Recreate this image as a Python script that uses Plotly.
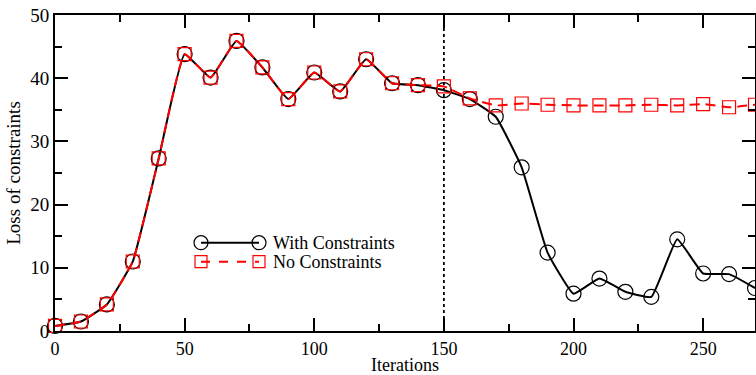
import plotly.graph_objects as go

iterations = list(range(0, 280, 10))
with_constraints = [0.8, 1.5, 4.2, 11.0, 27.3, 43.8, 40.1, 45.9, 41.7, 36.7, 40.9, 37.9, 43.0, 39.2, 38.9,
                    38.1, 36.7, 33.9, 25.9, 12.4, 5.9, 8.3, 6.2, 5.4, 14.5, 9.1, 9.0, 6.8]
no_constraints = [0.8, 1.5, 4.2, 11.0, 27.3, 43.8, 40.1, 45.9, 41.7, 36.7, 40.9, 37.9, 43.0, 39.2, 38.9,
                  38.7, 36.8, 35.7, 36.0, 35.8, 35.7, 35.7, 35.7, 35.8, 35.7, 35.9, 35.4, 35.8]
legend_labels = ["With Constraints", "No Constraints"]
x_title = "Iterations"
y_title = "Loss of constraints"

FONT = "Liberation Serif, Times New Roman, serif"

fig = go.Figure()
fig.add_trace(go.Scatter(
    x=iterations, y=with_constraints, mode="lines+markers", name=legend_labels[0],
    line=dict(color="black", width=2, shape="spline", smoothing=0.35),
    marker=dict(symbol="circle-open", size=15, color="black", line=dict(width=1.2)),
    cliponaxis=False, showlegend=False))
fig.add_trace(go.Scatter(
    x=iterations, y=no_constraints, mode="lines+markers", name=legend_labels[1],
    line=dict(color="#ff0000", width=2, dash="10px,6px", shape="spline", smoothing=0.35),
    marker=dict(symbol="square-open", size=13, color="#ff0000", line=dict(width=1.2)),
    cliponaxis=False, showlegend=False))

# vertical dotted line at iteration 150
fig.add_shape(type="line", xref="x", yref="paper", x0=150, x1=150, y0=0, y1=1,
              line=dict(color="black", width=1.8, dash="dot"))

# manual legend (paper coords)
W, H = 756, 375
l, r, t, b = 55, 1, 15, 44
pw, ph = W - l - r, H - t - b
def px(xp): return (xp - l) / pw
def py(yp): return (H - b - yp) / ph

rows = [(242.7, "black", "solid", "circle"), (261.7, "#ff0000", "dash", "square")]
for (yp, col, dash, sym), lab in zip(rows, legend_labels):
    fig.add_shape(type="line", xref="paper", yref="paper", x0=px(201), x1=px(259), y0=py(yp), y1=py(yp),
                  line=dict(color=col, width=2, dash=dash))
    for xc in (201, 259):
        if sym == "circle":
            fig.add_shape(type="circle", xref="paper", yref="paper",
                          x0=px(xc - 7), x1=px(xc + 7), y0=py(yp + 7), y1=py(yp - 7),
                          line=dict(color=col, width=1.2), fillcolor="rgba(0,0,0,0)")
        else:
            fig.add_shape(type="rect", xref="paper", yref="paper",
                          x0=px(xc - 6), x1=px(xc + 6), y0=py(yp + 6), y1=py(yp - 6),
                          line=dict(color=col, width=1.2), fillcolor="rgba(0,0,0,0)")
    fig.add_annotation(xref="paper", yref="paper", x=px(272), y=py(yp), text=lab, showarrow=False,
                       xanchor="left", yanchor="middle", font=dict(family=FONT, size=18, color="black"),
                       borderpad=0)

# x axis title placed explicitly
fig.add_annotation(xref="paper", yref="paper", x=px(405), y=py(365), text=x_title, showarrow=False,
                   xanchor="center", yanchor="middle", font=dict(family=FONT, size=18, color="black"),
                   borderpad=0)

axis_common = dict(showgrid=False, zeroline=False, showline=True, linecolor="black", linewidth=2,
                   mirror="allticks", ticks="inside", ticklen=13, tickwidth=1.5, tickcolor="black",
                   title_font=dict(family=FONT, size=19, color="black"), automargin=False)

fig.update_xaxes(range=[0, 270], dtick=50, tick0=0,
                 tickfont=dict(family=FONT, size=18, color="black"),
                 minor=dict(ticks="inside", ticklen=7, dtick=25, tickcolor="black", tickwidth=1.5),
                 **axis_common)
fig.update_yaxes(range=[0, 50], dtick=10, tick0=0, title_text=y_title, title_standoff=5,
                 tickfont=dict(family=FONT, size=19, color="black"),
                 minor=dict(ticks="inside", ticklen=7, dtick=5, tickcolor="black", tickwidth=1.5),
                 **axis_common)

fig.update_layout(width=W, height=H, margin=dict(l=l, r=r, t=t, b=b),
                  plot_bgcolor="white", paper_bgcolor="white", showlegend=False)

fig.write_html("out.html")
